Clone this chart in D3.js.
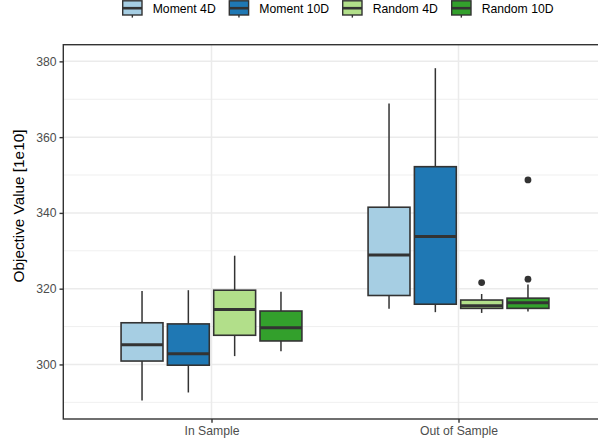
<!DOCTYPE html>
<html>
<head>
<meta charset="utf-8">
<script src="https://cdn.jsdelivr.net/npm/d3@7"></script>
<style>
  html, body { margin: 0; padding: 0; background: #fff; }
  svg { display: block; font-family: "Liberation Sans", Arial, sans-serif; }
</style>
</head>
<body>
<svg id="chart" width="598" height="445"></svg>
<script>
// ---- data ----
const categories = ["In Sample", "Out of Sample"];
const series = ["Moment 4D", "Moment 10D", "Random 4D", "Random 10D"];
const colors = ["#A6CEE3", "#1F78B4", "#B2DF8A", "#33A02C"];
// per series: [In Sample, Out of Sample]
const whiskerLow  = [[290.5, 314.7], [292.6, 313.8], [302.2, 313.6], [303.5, 314.0]];
const q1          = [[300.9, 318.2], [299.8, 315.9], [307.7, 314.8], [306.2, 314.8]];
const median      = [[305.2, 328.9], [302.8, 333.8], [314.5, 315.5], [309.7, 316.3]];
const q3          = [[311.0, 341.5], [310.7, 352.2], [319.6, 317.0], [314.1, 317.5]];
const whiskerHigh = [[319.4, 368.9], [319.6, 378.2], [328.7, 318.6], [319.2, 321.1]];
const outliers = [
  { series: "Random 4D", category: "Out of Sample", value: 321.6 },
  { series: "Random 10D", category: "Out of Sample", value: 322.5 },
  { series: "Random 10D", category: "Out of Sample", value: 348.7 }
];
const yTicks = [300, 320, 340, 360, 380];
const yMinor = [290, 310, 330, 350, 370];
const yLabel = "Objective Value [1e10]";

// ---- layout ----
const panel = { left: 63.3, right: 606.7, top: 44.7, bottom: 419 };
const svg = d3.select("#chart");

const x = d3.scalePoint().domain(categories).range([panel.left, panel.right]).padding(0.6);
const step = x.step();
const xInner = d3.scaleBand().domain(series).range([-0.375 * step, 0.375 * step]);
const boxW = xInner.bandwidth() * 0.905;
const y = d3.scaleLinear().domain([285.6, 384.4]).range([panel.bottom, panel.top]);
const color = d3.scaleOrdinal().domain(series).range(colors);

// grid
const grid = svg.append("g");
grid.selectAll("line.minor").data(yMinor).join("line")
  .attr("x1", panel.left).attr("x2", panel.right)
  .attr("y1", d => y(d)).attr("y2", d => y(d))
  .attr("stroke", "#EBEBEB").attr("stroke-width", 0.8);
grid.selectAll("line.major").data(yTicks).join("line")
  .attr("x1", panel.left).attr("x2", panel.right)
  .attr("y1", d => y(d)).attr("y2", d => y(d))
  .attr("stroke", "#EBEBEB").attr("stroke-width", 1.5);
grid.selectAll("line.vx").data(categories).join("line")
  .attr("x1", d => x(d)).attr("x2", d => x(d))
  .attr("y1", panel.top).attr("y2", panel.bottom)
  .attr("stroke", "#EBEBEB").attr("stroke-width", 1.5);

// boxes
const boxes = [];
series.forEach((s, si) => {
  categories.forEach((c, ci) => {
    boxes.push({ s, c, lo: whiskerLow[si][ci], q1: q1[si][ci], med: median[si][ci],
                 q3: q3[si][ci], hi: whiskerHigh[si][ci] });
  });
});
const cx = d => x(d.c) + xInner(d.s) + xInner.bandwidth() / 2;
const bg = svg.append("g");
bg.selectAll("line.wu").data(boxes).join("line")
  .attr("x1", cx).attr("x2", cx).attr("y1", d => y(d.q3)).attr("y2", d => y(d.hi))
  .attr("stroke", "#333333").attr("stroke-width", 1.5);
bg.selectAll("line.wl").data(boxes).join("line")
  .attr("x1", cx).attr("x2", cx).attr("y1", d => y(d.q1)).attr("y2", d => y(d.lo))
  .attr("stroke", "#333333").attr("stroke-width", 1.5);
bg.selectAll("rect").data(boxes).join("rect")
  .attr("x", d => cx(d) - boxW / 2).attr("width", boxW)
  .attr("y", d => y(d.q3)).attr("height", d => y(d.q1) - y(d.q3))
  .attr("fill", d => color(d.s)).attr("stroke", "#333333").attr("stroke-width", 1.6);
bg.selectAll("line.med").data(boxes).join("line")
  .attr("x1", d => cx(d) - boxW / 2).attr("x2", d => cx(d) + boxW / 2)
  .attr("y1", d => y(d.med)).attr("y2", d => y(d.med))
  .attr("stroke", "#333333").attr("stroke-width", 3);
bg.selectAll("circle").data(outliers).join("circle")
  .attr("cx", d => x(d.category) + xInner(d.series) + xInner.bandwidth() / 2)
  .attr("cy", d => y(d.value)).attr("r", 3.4).attr("fill", "#333333");

// panel border
svg.append("rect")
  .attr("x", panel.left).attr("y", panel.top)
  .attr("width", panel.right - panel.left).attr("height", panel.bottom - panel.top)
  .attr("fill", "none").attr("stroke", "#333333").attr("stroke-width", 1.4);

// y axis
const yAxis = d3.axisLeft(y).tickValues(yTicks).tickSize(3.8).tickPadding(3);
const ya = svg.append("g").attr("transform", `translate(${panel.left},0)`).call(yAxis);
ya.select(".domain").remove();
ya.selectAll(".tick line").attr("stroke", "#333333").attr("stroke-width", 1.4);
ya.selectAll(".tick text").attr("fill", "#4D4D4D").style("font-size", "12.2px")
  .attr("font-family", "Liberation Sans, Arial, sans-serif");

// x axis
const xAxis = d3.axisBottom(x).tickSize(3.8).tickPadding(3.2);
const xa = svg.append("g").attr("transform", `translate(0,${panel.bottom})`).call(xAxis);
xa.select(".domain").remove();
xa.selectAll(".tick line").attr("stroke", "#333333").attr("stroke-width", 1.4);
xa.selectAll(".tick text").attr("fill", "#4D4D4D").style("font-size", "12.2px")
  .attr("font-family", "Liberation Sans, Arial, sans-serif");

// y title
svg.append("text")
  .attr("transform", `translate(23.5,206) rotate(-90)`)
  .attr("text-anchor", "middle").attr("fill", "#000").style("font-size", "15.3px")
  .text(yLabel);

// legend
const legendX = [122.7, 229.3, 342.7, 451.7];
const lg = svg.append("g");
series.forEach((s, i) => {
  const g = lg.append("g").attr("transform", `translate(${legendX[i]},0)`);
  const kw = 19.3, kcx = kw / 2;
  g.append("line").attr("x1", kcx).attr("x2", kcx).attr("y1", 15).attr("y2", 17.6)
    .attr("stroke", "#333333").attr("stroke-width", 1.4);
  g.append("rect").attr("x", 0).attr("y", 0.8).attr("width", kw).attr("height", 14.2)
    .attr("fill", colors[i]).attr("stroke", "#333333").attr("stroke-width", 1.4);
  g.append("line").attr("x1", 0).attr("x2", kw).attr("y1", 8.2).attr("y2", 8.2)
    .attr("stroke", "#333333").attr("stroke-width", 2.6);
  g.append("text").attr("x", 30).attr("y", 13.2).attr("fill", "#000")
    .style("font-size", "12.2px").text(s);
});
</script>
</body>
</html>
